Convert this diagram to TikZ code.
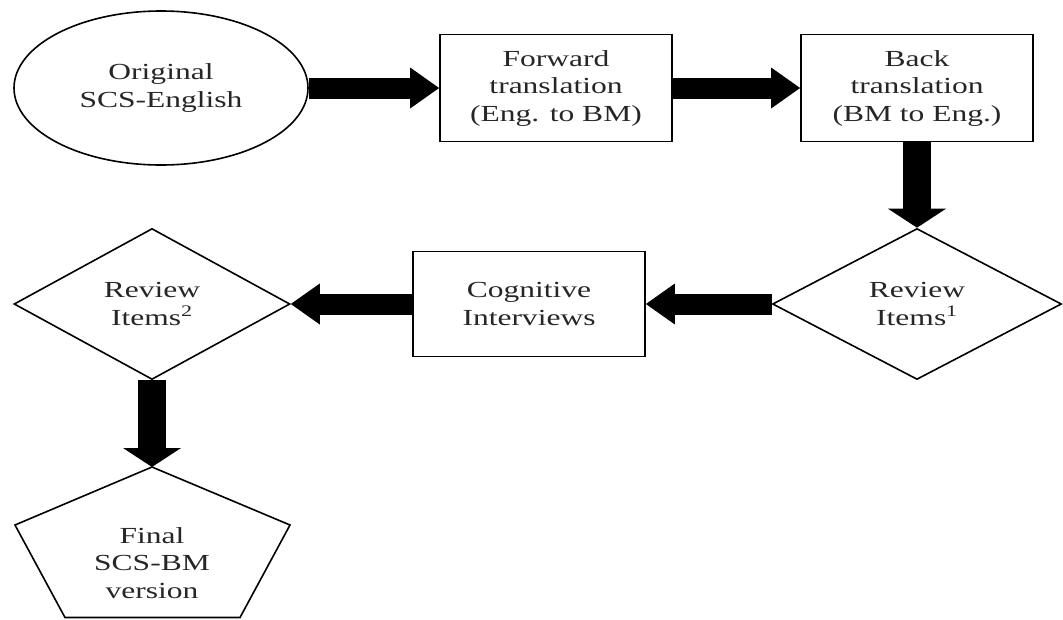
\documentclass[tikz,border=0pt]{standalone}
\usepackage{fontspec}
\setmainfont{Liberation Serif}[FakeStretch=1.37]
\usetikzlibrary{arrows.meta,shapes.geometric}
\begin{document}
\begin{tikzpicture}[x=1pt,y=-1pt,
  every node/.style={font=\fontsize{23}{27.5}\selectfont, align=center, inner sep=0pt, text=black!85},
  proc/.style={draw, line width=1.8pt, rectangle, minimum width=232pt, minimum height=107pt},
  dec/.style={draw, line width=1.6pt, diamond, aspect=1.9},
  harrow/.style={line width=21pt, -{Triangle[length=29pt,width=41pt,line width=0pt]}},
  varrow/.style={line width=28pt, -{Triangle[length=19pt,width=58pt,line width=0pt]}},
]
\fill[white] (0,0) rectangle (1063,619);
\useasboundingbox (0,0) rectangle (1063,619);

\node[draw, ellipse, line width=1.6pt, minimum width=294pt, minimum height=154pt] (orig) at (161,88) {Original\\SCS-English};
\node[proc] (fwd) at (556,88) {Forward\\translation\\(Eng. to BM)};
\node[proc] (back) at (917,88) {Back\\translation\\(BM to Eng.)};
\node[dec, minimum width=289pt, minimum height=151pt] (rev1) at (917,304) {Review\\Items\textsuperscript{1}};
\node[proc, minimum height=105pt] (cog) at (529,304) {Cognitive\\Interviews};
\node[dec, minimum width=276pt, minimum height=151pt] (rev2) at (152,304) {Review\\Items\textsuperscript{2}};

\coordinate (ptop) at (152,467);
\draw[line width=1.6pt] (ptop) -- (290,525) -- (240,617.5) -- (65,617.5) -- (15,525) -- cycle;
\node (final) at (152,563) {Final\\SCS-BM\\version};

\draw[harrow] (orig.east) -- (fwd.west);
\draw[harrow] (fwd.east) -- (back.west);
\draw[varrow] (back.south) -- (rev1.north);
\draw[harrow] (rev1.west) -- (cog.east);
\draw[harrow] (cog.west) -- (rev2.east);
\draw[varrow] (rev2.south) -- (ptop);
\end{tikzpicture}
\end{document}
